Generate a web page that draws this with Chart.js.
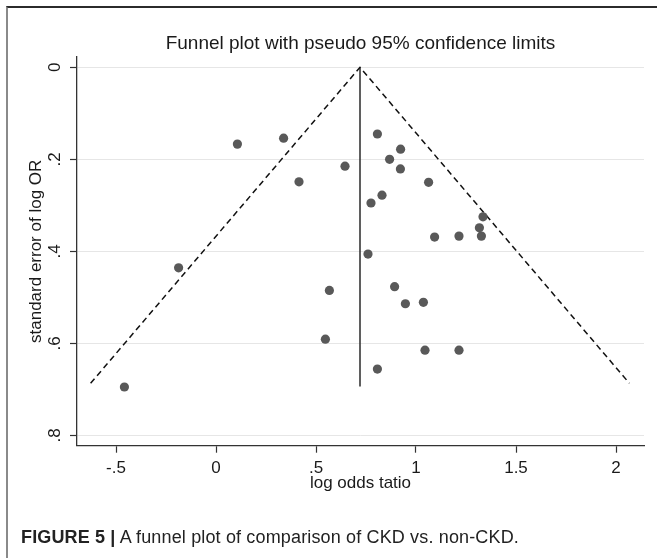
<!DOCTYPE html>
<html>
<head>
<meta charset="utf-8">
<script src="https://cdn.jsdelivr.net/npm/chart.js@4/dist/chart.umd.min.js"></script>
<style>
html,body{margin:0;padding:0;background:#fff;}
#wrap{position:relative;width:657px;height:558px;overflow:hidden;background:#fff;}
canvas{position:absolute;left:0;top:0;}
#frame{position:absolute;left:6px;top:6px;right:-4px;bottom:-4px;border-top:2px solid #2b2b2b;border-left:2px solid #8a8a8a;pointer-events:none;}
#caption{position:absolute;left:21px;top:527px;font-family:"Liberation Sans",Arial,sans-serif;font-size:18px;letter-spacing:0.15px;color:#222;white-space:nowrap;}
#caption b{font-weight:bold;}
</style>
</head>
<body>
<div id="wrap">
<canvas id="c" width="657" height="558"></canvas>
<div id="frame"></div>
<div id="caption"><b>FIGURE 5 |</b> A funnel plot of comparison of CKD vs. non-CKD.</div>
</div>
<script>
// ---- data ----
const logOddsRatio = [0.107, 0.338, 0.645, 0.415, 0.807, 0.775, 0.830, 0.760, -0.187, 0.567,
                      0.547, 0.807, -0.458, 0.923, 0.868, 0.922, 1.063, 1.335, 1.317, 1.327,
                      1.215, 1.093, 0.893, 0.947, 1.037, 1.045, 1.215];
const seLogOR      = [0.167, 0.154, 0.215, 0.249, 0.145, 0.295, 0.278, 0.406, 0.436, 0.485,
                      0.591, 0.656, 0.695, 0.178, 0.200, 0.221, 0.250, 0.325, 0.349, 0.367,
                      0.367, 0.369, 0.477, 0.514, 0.511, 0.615, 0.615];
const pooledX   = [0.72, 0.72];
const pooledSE  = [0, 0.694];
const funnelX   = [-0.627, 0.72, 2.067];
const funnelSE  = [0.687, 0, 0.687];
const xTicks = [-0.5, 0, 0.5, 1, 1.5, 2];
const xTickLabels = ['-.5', '0', '.5', '1', '1.5', '2'];
const yTicks = [0, 0.2, 0.4, 0.6, 0.8];
const yTickLabels = ['0', '.2', '.4', '.6', '.8'];

const FONT = '"Liberation Sans", Arial, Helvetica, sans-serif';
Chart.defaults.font.family = FONT;
Chart.defaults.color = '#1a1a1a';

const pts = logOddsRatio.map((x, i) => ({x: x, y: seLogOR[i]}));
const pooled = pooledX.map((x, i) => ({x: x, y: pooledSE[i]}));
const funnel = funnelX.map((x, i) => ({x: x, y: funnelSE[i]}));

new Chart(document.getElementById('c'), {
  type: 'scatter',
  data: {
    datasets: [
      { data: pts, pointRadius: 4.6, pointHoverRadius: 4.6, backgroundColor: '#595959', borderWidth: 0, pointBorderWidth: 0 },
      { type: 'line', data: funnel, borderColor: '#111', borderWidth: 1.5, borderDash: [6, 4], pointRadius: 0, fill: false, tension: 0 },
      { type: 'line', data: pooled, borderColor: '#2a2a2a', borderWidth: 1.5, pointRadius: 0, fill: false, tension: 0 }
    ]
  },
  options: {
    responsive: false,
    animation: false,
    events: [],
    layout: { padding: { left: 0, right: 13, top: 0, bottom: 62.3 } },
    plugins: {
      legend: { display: false },
      tooltip: { enabled: false },
      title: {
        display: true,
        fullSize: false,
        text: 'Funnel plot with pseudo 95% confidence limits',
        font: { size: 19, weight: 'normal', family: FONT },
        color: '#1a1a1a',
        padding: { top: 31.9, bottom: 2.3 }
      }
    },
    scales: {
      x: {
        type: 'linear',
        min: -0.695, max: 2.14,
        afterBuildTicks: s => { s.ticks = xTicks.map(v => ({ value: v })); },
        afterFit: s => { s.height = 50; },
        ticks: {
          callback: v => xTickLabels[xTicks.indexOf(v)],
          font: { size: 17 }, color: '#1a1a1a', padding: 5, maxRotation: 0, minRotation: 0
        },
        grid: { drawOnChartArea: false, drawTicks: true, tickLength: 7, tickColor: '#333', tickWidth: 1.2 },
        border: { display: true, color: '#333', width: 1.3 },
        title: { display: true, text: 'log odds tatio', font: { size: 17 }, color: '#1a1a1a', padding: { top: 0, bottom: 2.2 } }
      },
      y: {
        type: 'linear',
        reverse: true,
        min: -0.0224, max: 0.8226,
        afterBuildTicks: s => { s.ticks = yTicks.map(v => ({ value: v })); },
        afterFit: s => { s.width = 77; },
        ticks: {
          callback: v => yTickLabels[yTicks.indexOf(v)],
          font: { size: 17 }, color: '#1a1a1a', padding: 8,
          minRotation: 90, maxRotation: 90, crossAlign: 'center'
        },
        grid: { color: '#e6e6e6', lineWidth: 1, drawTicks: true, tickLength: 7, tickColor: '#333', tickWidth: 1.2 },
        border: { display: true, color: '#333', width: 1.3 },
        title: { display: true, text: 'standard error of log OR', font: { size: 17 }, color: '#1a1a1a', padding: { top: 26.5, bottom: 0 } }
      }
    }
  }
});
</script>
</body>
</html>
